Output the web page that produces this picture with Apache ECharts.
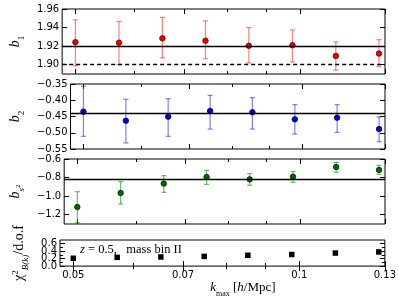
<!DOCTYPE html>
<html><head><meta charset="utf-8">
<script src="https://cdn.jsdelivr.net/npm/echarts@6/dist/echarts.min.js"></script>
<style>html,body{margin:0;padding:0;background:#fff}#c{width:399px;height:299px}</style>
</head><body><div id="c"></div>
<script>
// ---- data ----
const kmax = [0.05, 0.0572, 0.0654, 0.0747, 0.0854, 0.0977, 0.1117, 0.1276];

const b1    = [1.9243, 1.9237, 1.9284, 1.9258, 1.9204, 1.9210, 1.9095, 1.9120];
const b1Lo  = [1.8989, 1.9000, 1.9073, 1.9065, 1.9019, 1.9030, 1.8942, 1.8978];
const b1Hi  = [1.9483, 1.9466, 1.9510, 1.9472, 1.9400, 1.9374, 1.9245, 1.9270];
const b1Ref = 1.9204;
const b1RefDashed = 1.9022;

const b2    = [-0.435, -0.463, -0.4505, -0.433, -0.437, -0.4587, -0.4536, -0.4885];
const b2Lo  = [-0.511, -0.5315, -0.511, -0.4885, -0.4885, -0.5038, -0.4987, -0.5275];
const b2Hi  = [-0.357, -0.397, -0.395, -0.385, -0.392, -0.4135, -0.4135, -0.4515];
const b2Ref = -0.436;

const bs2   = [-1.117, -0.966, -0.865, -0.794, -0.819, -0.790, -0.686, -0.718];
const bs2Lo = [-1.286, -1.084, -0.959, -0.873, -0.883, -0.851, -0.743, -0.765];
const bs2Hi = [-0.952, -0.844, -0.779, -0.722, -0.758, -0.736, -0.636, -0.668];
const bs2Ref = -0.819;

const chi2  = [0.21, 0.235, 0.245, 0.26, 0.29, 0.31, 0.35, 0.38];

// ---- tick labels ----
const xTicks = [0.05, 0.07, 0.1, 0.13];
const xMinorTicks = [0.06, 0.08, 0.09];
const b1Ticks = [1.90, 1.92, 1.94, 1.96];
const b2Ticks = [-0.55, -0.50, -0.45, -0.40, -0.35];
const bs2Ticks = [-1.2, -1.0, -0.8, -0.6];
const chiTicks = [0.0, 0.2, 0.4, 0.6];
const chiMinorTicks = [0.1, 0.3, 0.5];

// ---- layout ----
const L = 60, W = 325;
const grids = [
  {left: L, width: W, top: 9, height: 65},
  {left: L, width: W, top: 84, height: 65},
  {left: L, width: W, top: 159, height: 65},
  {left: L, width: W, top: 240, height: 30}
].map(g => Object.assign(g, {show: true, borderColor: '#000', borderWidth: 1, backgroundColor: 'transparent', containLabel: false}));

const serif = 'Liberation Serif';
const sans = 'DejaVu Sans';
const minus = v => String(v).replace('-', '\u2212');

function fmtY(dec) { return v => minus((+v).toFixed(dec)); }

const xAxes = [];
const yAxes = [];
function addX(gi, pos, ticks, len, labels) {
  xAxes.push({
    type: 'log', logBase: 10, gridIndex: gi, position: pos, min: 0.048, max: 0.13,
    axisLine: {show: false}, splitLine: {show: false}, minorTick: {show: false},
    axisTick: {show: true, inside: true, length: len, lineStyle: {color: '#000', width: 1}, customValues: ticks},
    axisLabel: {show: labels, customValues: ticks, fontFamily: sans, fontSize: 10, color: '#000', margin: 4,
      hideOverlap: false, showMinLabel: true, showMaxLabel: true,
      formatter: v => String(Math.round(v * 1000) / 1000)}
  });
  return xAxes.length - 1;
}
// tickVals: where ticks go (null = none); labelVals: where labels go (null = none)
function addY(gi, pos, min, max, tickVals, len, labelVals, dec, name, nameGap, rich) {
  const ax = {
    type: 'value', gridIndex: gi, position: pos, min: min, max: max,
    axisLine: {show: false}, splitLine: {show: false},
    axisTick: {show: !!tickVals, inside: true, length: len, lineStyle: {color: '#000', width: 1}, customValues: tickVals || []},
    axisLabel: {show: !!labelVals, customValues: labelVals || [], fontFamily: sans, fontSize: 10, color: '#000', margin: 3,
      hideOverlap: false, showMinLabel: true, showMaxLabel: true, formatter: fmtY(dec)}
  };
  if (name) {
    ax.name = name; ax.nameLocation = 'middle'; ax.nameRotate = 90; ax.nameGap = nameGap;
    ax.nameTextStyle = {rich: rich};
  }
  yAxes.push(ax);
  return yAxes.length - 1;
}

const richB = {
  b: {fontFamily: serif, fontStyle: 'italic', fontSize: 14, color: '#000', lineHeight: 16},
  s: {fontFamily: serif, fontSize: 9, color: '#000', verticalAlign: 'bottom', lineHeight: 9, padding: [0, 0, -3, 0]},
  si: {fontFamily: serif, fontStyle: 'italic', fontSize: 9, color: '#000', verticalAlign: 'bottom', lineHeight: 9, padding: [0, 0, -3, 0]},
  ss: {fontFamily: serif, fontSize: 7, color: '#000', verticalAlign: 'bottom', lineHeight: 7, padding: [0, 0, 1, 0]}
};
const richChi = {
  t: {fontFamily: serif, fontSize: 14, color: '#000', lineHeight: 16},
  sup: {fontFamily: serif, fontSize: 9, color: '#000', verticalAlign: 'top', lineHeight: 9, padding: [0, 0, 0, 0]},
  sub: {fontFamily: serif, fontSize: 9, fontStyle: 'italic', color: '#000', verticalAlign: 'bottom', lineHeight: 9, padding: [0, 0, -3, 0]}
};

const panels = [
  {min: 1.89, max: 1.96, ticks: b1Ticks, dec: 2, name: '{b|b}{s|1}', gap: 36, rich: richB},
  {min: -0.55, max: -0.35, ticks: b2Ticks, dec: 2, name: '{b|b}{s|2}', gap: 36, rich: richB},
  {min: -1.3, max: -0.6, ticks: bs2Ticks, dec: 1, name: '{b|b}{si|s}{ss|2}', gap: 36, rich: richB},
  {min: 0, max: 0.7, ticks: chiTicks, dec: 1, name: '{t|\u03c7}{sup|2}{sub|B(k)}{t|/d.o.f}', gap: 25, rich: richChi, split: true}
];

const idx = [];
panels.forEach((p, gi) => {
  const xb = addX(gi, 'bottom', xTicks, 5, gi === 3);
  addX(gi, 'bottom', xMinorTicks, 3, false);
  addX(gi, 'top', xTicks, 5, false);
  addX(gi, 'top', xMinorTicks, 3, false);
  let yl;
  if (p.split) {
    // tightly packed labels: spread over two overlaid axes so none is dropped
    const evenL = p.ticks.filter((v, i) => i % 2 === 0);
    const oddL = p.ticks.filter((v, i) => i % 2 === 1);
    yl = addY(gi, 'left', p.min, p.max, p.ticks, 5, evenL, p.dec, p.name, p.gap, p.rich);
    addY(gi, 'left', p.min, p.max, null, 5, oddL, p.dec);
    addY(gi, 'left', p.min, p.max, chiMinorTicks, 3, null, 1);
    addY(gi, 'right', p.min, p.max, chiMinorTicks, 3, null, 1);
  } else {
    yl = addY(gi, 'left', p.min, p.max, p.ticks, 5, p.ticks, p.dec, p.name, p.gap, p.rich);
  }
  addY(gi, 'right', p.min, p.max, p.ticks, 5, null, p.dec);
  idx.push({x: xb, y: yl});
});

// x-axis title on the bottom panel
Object.assign(xAxes[idx[3].x], {
  name: '{i|k}{s|max}{t| [}{i|h}{t|/Mpc]}', nameLocation: 'middle', nameGap: 12,
  nameTextStyle: {padding: [0, 0, 0, 41], rich: {
    i: {fontFamily: serif, fontStyle: 'italic', fontSize: 13, color: '#000', lineHeight: 15},
    t: {fontFamily: serif, fontSize: 13, color: '#000', lineHeight: 15},
    s: {fontFamily: serif, fontSize: 8, color: '#000', verticalAlign: 'bottom', lineHeight: 8, padding: [0, 0, -3, 0]}
  }}
});

function errRender(color) {
  return function (params, api) {
    const x = api.value(0), lo = api.value(1), hi = api.value(2);
    const p1 = api.coord([x, lo]), p2 = api.coord([x, hi]);
    const c = 2.5, st = {stroke: color, lineWidth: 1.2};
    return {type: 'group', children: [
      {type: 'line', shape: {x1: p1[0], y1: p1[1], x2: p2[0], y2: p2[1]}, style: st},
      {type: 'line', shape: {x1: p1[0] - c, y1: p1[1], x2: p1[0] + c, y2: p1[1]}, style: st},
      {type: 'line', shape: {x1: p2[0] - c, y1: p2[1], x2: p2[0] + c, y2: p2[1]}, style: st}
    ]};
  };
}

function refLine(vals, dashedIdx) {
  return {
    silent: true, symbol: ['none', 'none'], label: {show: false}, animation: false,
    data: vals.map((v, i) => ({yAxis: v, lineStyle: {color: '#000', width: 1.3, type: i === dashedIdx ? [4, 3] : 'solid'}}))
  };
}

const series = [];
const sets = [
  {v: b1, lo: b1Lo, hi: b1Hi, fill: '#ee0000', edge: '#600000', bar: 'rgba(255,40,40,0.6)', refs: [b1Ref, b1RefDashed]},
  {v: b2, lo: b2Lo, hi: b2Hi, fill: '#0000dd', edge: '#000050', bar: 'rgba(40,40,255,0.6)', refs: [b2Ref]},
  {v: bs2, lo: bs2Lo, hi: bs2Hi, fill: '#006400', edge: '#002800', bar: 'rgba(0,150,0,0.6)', refs: [bs2Ref]}
];
sets.forEach((s, gi) => {
  series.push({
    type: 'custom', xAxisIndex: idx[gi].x, yAxisIndex: idx[gi].y, renderItem: errRender(s.bar),
    encode: {x: 0, y: [1, 2]}, z: 2, silent: true, clip: false,
    data: kmax.map((k, i) => [k, s.lo[i], s.hi[i]])
  });
  series.push({
    type: 'scatter', xAxisIndex: idx[gi].x, yAxisIndex: idx[gi].y, z: 3,
    symbol: 'circle', symbolSize: 5.5,
    itemStyle: {color: s.fill, borderColor: s.edge, borderWidth: 0.8, opacity: 1},
    data: kmax.map((k, i) => [k, s.v[i]]),
    markLine: refLine(s.refs, 1)
  });
});
series.push({
  type: 'scatter', xAxisIndex: idx[3].x, yAxisIndex: idx[3].y, z: 3,
  symbol: 'rect', symbolSize: 5.5, itemStyle: {color: '#000', opacity: 1},
  data: kmax.map((k, i) => [k, chi2[i]])
});

const chart = echarts.init(document.getElementById('c'), null, {renderer: 'canvas'});
chart.setOption({
  animation: false,
  backgroundColor: '#fff',
  grid: grids,
  xAxis: xAxes,
  yAxis: yAxes,
  series: series,
  graphic: [{
    type: 'text', left: 80, top: 243, silent: true,
    style: {text: '{i|z}{t| = 0.5,   mass bin II}', rich: {
      i: {fontFamily: serif, fontStyle: 'italic', fontSize: 12.5, fill: '#000'},
      t: {fontFamily: serif, fontSize: 12.5, fill: '#000'}
    }}
  }]
});
</script></body></html>
